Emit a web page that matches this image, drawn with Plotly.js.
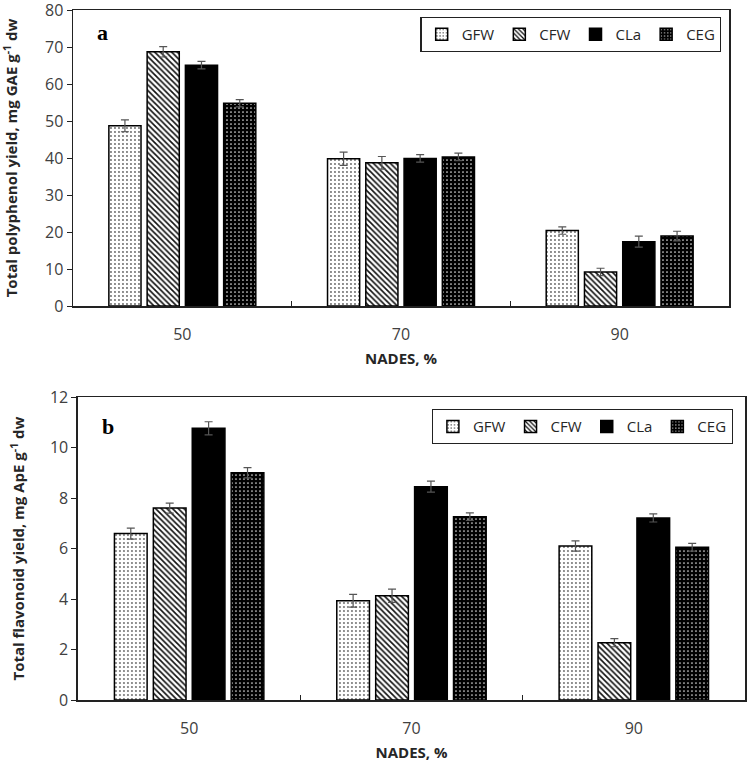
<!DOCTYPE html>
<html>
<head>
<meta charset="utf-8">
<script src="https://cdn.plot.ly/plotly-3.0.1.min.js"></script>
<style>html,body{margin:0;padding:0;background:#fff;}#chart{width:749px;height:763px;}</style>
</head>
<body>
<div id="chart"></div>
<script>
// Data
const categories = ['50', '70', '90'];
const seriesNames = ['GFW', 'CFW', 'CLa', 'CEG'];

// Panel a: Total polyphenol yield
const polyGFW = [48.7, 39.8, 20.4];
const polyCFW = [68.7, 38.7, 9.2];
const polyCLa = [65.1, 39.9, 17.4];
const polyCEG = [54.8, 40.3, 18.9];
const polyErrGFW = [1.6, 1.8, 1.0];
const polyErrCFW = [1.4, 1.7, 1.0];
const polyErrCLa = [1.0, 1.0, 1.5];
const polyErrCEG = [1.0, 1.0, 1.3];

// Panel b: Total flavonoid yield
const flavGFW = [6.59, 3.93, 6.10];
const flavCFW = [7.60, 4.13, 2.27];
const flavCLa = [10.76, 8.45, 7.21];
const flavCEG = [9.00, 7.26, 6.05];
const flavErrGFW = [0.22, 0.25, 0.20];
const flavErrCFW = [0.20, 0.26, 0.16];
const flavErrCLa = [0.26, 0.22, 0.16];
const flavErrCEG = [0.20, 0.15, 0.15];

const patterns = {
  GFW: {color: '#ffffff', pattern: {shape: '.', fgcolor: '#666', bgcolor: '#ffffff', size: 4, solidity: 0.18}},
  CFW: {color: '#ffffff', pattern: {shape: '\\', fgcolor: '#111', bgcolor: '#ffffff', size: 4, solidity: 0.4}},
  CLa: {color: '#000000', pattern: {shape: ''}},
  CEG: {color: '#000000', pattern: {shape: '.', fgcolor: '#dddddd', bgcolor: '#000000', size: 4, solidity: 0.15}}
};

function mk(name, y, err, xa, ya, leg) {
  const p = patterns[name];
  const marker = {color: p.color, line: {color: '#000', width: 1.5}};
  if (p.pattern.shape) marker.pattern = p.pattern;
  return {
    type: 'bar', name: name, x: categories, y: y,
    xaxis: xa, yaxis: ya, legend: leg,
    marker: marker,
    error_y: {type: 'data', array: err, visible: true, color: '#555', thickness: 1.2, width: 4}
  };
}

const data = [
  mk('GFW', polyGFW, polyErrGFW, 'x', 'y', 'legend'),
  mk('CFW', polyCFW, polyErrCFW, 'x', 'y', 'legend'),
  mk('CLa', polyCLa, polyErrCLa, 'x', 'y', 'legend'),
  mk('CEG', polyCEG, polyErrCEG, 'x', 'y', 'legend'),
  mk('GFW', flavGFW, flavErrGFW, 'x2', 'y2', 'legend2'),
  mk('CFW', flavCFW, flavErrCFW, 'x2', 'y2', 'legend2'),
  mk('CLa', flavCLa, flavErrCLa, 'x2', 'y2', 'legend2'),
  mk('CEG', flavCEG, flavErrCEG, 'x2', 'y2', 'legend2')
];

const font = 'Open Sans, Noto Sans, sans-serif';
const xbase = {
  type: 'category', showline: true, linecolor: '#222', linewidth: 1.5, mirror: true,
  ticks: 'inside', tickson: 'boundaries', ticklen: 5, tickcolor: '#222',
  tickfont: {family: font, size: 16, color: '#404040'}, ticklabelstandoff: 13,
  showgrid: false, zeroline: false, fixedrange: true
};
const ybase = {
  showline: true, linecolor: '#222', linewidth: 1.5, mirror: true,
  ticks: 'outside', ticklen: 5, tickcolor: '#222', ticklabeloverflow: 'allow',
  tickfont: {family: font, size: 16, color: '#404040'},
  showgrid: false, zeroline: false
};

const layout = {
  width: 749, height: 763,
  margin: {l: 73, r: 4, t: 10, b: 63},
  paper_bgcolor: '#fff', plot_bgcolor: '#fff',
  barmode: 'group', bargap: 0.3, bargroupgap: 0.16,
  showlegend: true,
  xaxis: Object.assign({}, xbase, {domain: [0, 0.9762], anchor: 'y',
    title: {text: '<b>NADES, %</b>', font: {family: font, size: 15, color: '#262626'}, standoff: 10}}),
  yaxis: Object.assign({}, ybase, {domain: [0.571, 1], anchor: 'x', range: [0, 80], dtick: 10,
    title: {text: '<b>Total polyphenol yield, mg GAE g<sup>-1</sup> dw</b>', font: {family: font, size: 15, color: '#262626'}, standoff: 23}}),
  xaxis2: Object.assign({}, xbase, {domain: [0.0074, 1], anchor: 'y2',
    title: {text: '<b>NADES, %</b>', font: {family: font, size: 15, color: '#262626'}, standoff: 10}}),
  yaxis2: Object.assign({}, ybase, {domain: [0, 0.4391], anchor: 'x2', range: [0, 12], dtick: 2,
    title: {text: '<b>Total flavonoid yield, mg ApE g<sup>-1</sup> dw</b>', font: {family: font, size: 15, color: '#262626'}, standoff: 21}}),
  legend: {orientation: 'h', x: 0.965, xanchor: 'right', y: 0.99, yanchor: 'top',
    bordercolor: '#222', borderwidth: 1.2, bgcolor: '#fff',
    font: {family: font, size: 15, color: '#262626'}, itemwidth: 30, tracegroupgap: 0},
  legend2: {orientation: 'h', x: 0.9817, xanchor: 'right', y: 0.4217, yanchor: 'top',
    bordercolor: '#222', borderwidth: 1.2, bgcolor: '#fff',
    font: {family: font, size: 15, color: '#262626'}, itemwidth: 30, tracegroupgap: 0},
  annotations: [
    {text: '<b>a</b>', xref: 'paper', yref: 'paper', x: 0.0446, y: 0.968, xanchor: 'center', yanchor: 'middle', showarrow: false,
     font: {family: 'Liberation Serif, Times New Roman, serif', size: 22, color: '#000'}},
    {text: '<b>b</b>', xref: 'paper', yref: 'paper', x: 0.052, y: 0.3957, xanchor: 'center', yanchor: 'middle', showarrow: false,
     font: {family: 'Liberation Serif, Times New Roman, serif', size: 22, color: '#000'}}
  ]
};

Plotly.newPlot('chart', data, layout, {displayModeBar: false, staticPlot: true});
</script>
</body>
</html>
